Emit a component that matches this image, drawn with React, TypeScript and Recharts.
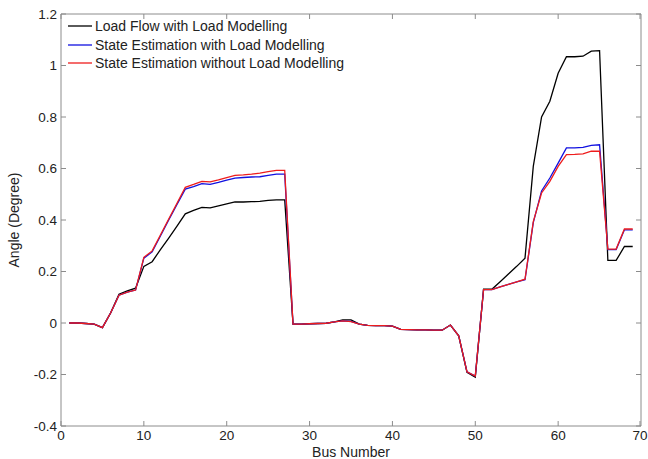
import { LineChart, Line, XAxis, YAxis, Legend } from 'recharts';

// bus numbers 1..69
const buses = [
  1, 2, 3, 4, 5, 6, 7, 8, 9, 10, 11, 12, 13, 14, 15, 16, 17, 18, 19, 20, 21, 22, 23,
  24, 25, 26, 27, 28, 29, 30, 31, 32, 33, 34, 35, 36, 37, 38, 39, 40, 41, 42, 43, 44, 45,
  46, 47, 48, 49, 50, 51, 52, 53, 54, 55, 56, 57, 58, 59, 60, 61, 62, 63, 64, 65, 66, 67,
  68, 69,
];

const loadFlow = [
  0, 0, -0.002, -0.004, -0.018, 0.04, 0.112, 0.125, 0.135, 0.22, 0.238, 0.285, 0.33, 0.376,
  0.424, 0.437, 0.449, 0.447, 0.455, 0.463, 0.47, 0.47, 0.471, 0.472, 0.476, 0.478, 0.478,
  -0.004, -0.004, -0.003, -0.002, -0.001, 0.004, 0.012, 0.012, -0.004, -0.009, -0.01, -0.01,
  -0.012, -0.025, -0.026, -0.027, -0.027, -0.028, -0.028, -0.008, -0.05, -0.192, -0.21,
  0.131, 0.131, 0.16, 0.19, 0.22, 0.252, 0.608, 0.8, 0.861, 0.97, 1.034, 1.034, 1.036,
  1.056, 1.058, 0.243, 0.243, 0.297, 0.297,
];

const seWithLM = [
  0, 0, -0.002, -0.004, -0.018, 0.04, 0.108, 0.12, 0.128, 0.252, 0.276, 0.338, 0.4, 0.46,
  0.52, 0.53, 0.541, 0.538, 0.546, 0.555, 0.563, 0.565, 0.567, 0.568, 0.573, 0.578, 0.578,
  -0.004, -0.004, -0.003, -0.002, -0.001, 0.004, 0.008, 0.006, -0.004, -0.009, -0.01, -0.01,
  -0.012, -0.025, -0.026, -0.027, -0.027, -0.028, -0.028, -0.008, -0.05, -0.19, -0.206,
  0.13, 0.13, 0.14, 0.15, 0.16, 0.168, 0.39, 0.513, 0.563, 0.621, 0.68, 0.68, 0.682,
  0.69, 0.692, 0.285, 0.285, 0.362, 0.362,
];

const seWithoutLM = [
  0, 0, -0.002, -0.004, -0.018, 0.04, 0.108, 0.12, 0.128, 0.255, 0.28, 0.342, 0.404, 0.465,
  0.527, 0.538, 0.55, 0.548, 0.556, 0.565, 0.573, 0.575, 0.578, 0.582, 0.588, 0.593, 0.593,
  -0.004, -0.004, -0.003, -0.002, -0.001, 0.004, 0.008, 0.005, -0.004, -0.009, -0.01, -0.01,
  -0.012, -0.025, -0.026, -0.027, -0.027, -0.028, -0.028, -0.008, -0.05, -0.19, -0.206,
  0.13, 0.13, 0.14, 0.15, 0.16, 0.17, 0.394, 0.505, 0.55, 0.608, 0.654, 0.655, 0.657,
  0.667, 0.667, 0.287, 0.287, 0.365, 0.365,
];

const xTicks = [0, 10, 20, 30, 40, 50, 60, 70];
const yTicks = [-0.4, -0.2, 0, 0.2, 0.4, 0.6, 0.8, 1, 1.2];

const seriesInfo = [
  { key: 'loadFlow', name: 'Load Flow with Load Modelling', color: '#000000' },
  { key: 'seWithLM', name: 'State Estimation with Load Modelling', color: '#1010e0' },
  { key: 'seWithoutLM', name: 'State Estimation without Load Modelling', color: '#ee1c1c' },
];

const data = buses.map((bus, i) => ({
  bus,
  loadFlow: loadFlow[i],
  seWithLM: seWithLM[i],
  seWithoutLM: seWithoutLM[i],
}));

const FONT = '"Liberation Sans", Arial, sans-serif';
const AXIS = '#8c8c8c';
const TEXT = '#222';
const TICK_LEN = 5;

function fmtY(v: number) {
  return String(Number(v.toFixed(1)));
}

// MATLAB-style ticks: mark drawn inward, label outside
function BottomTick({ x, y, payload }: any) {
  return (
    <g>
      <line x1={x} x2={x} y1={y} y2={y - TICK_LEN} stroke={AXIS} />
      <text x={x} y={y + 4} dy="0.71em" textAnchor="middle" fontSize={13.5} fill={TEXT} fontFamily={FONT}>
        {payload.value}
      </text>
    </g>
  );
}

function TopTick({ x, y }: any) {
  return <line x1={x} x2={x} y1={y} y2={y + TICK_LEN} stroke={AXIS} />;
}

function LeftTick({ x, y, payload }: any) {
  return (
    <g>
      <line x1={x} x2={x + TICK_LEN} y1={y} y2={y} stroke={AXIS} />
      <text x={x - 4} y={y} dy="0.35em" textAnchor="end" fontSize={13.5} fill={TEXT} fontFamily={FONT}>
        {fmtY(payload.value)}
      </text>
    </g>
  );
}

function RightTick({ x, y }: any) {
  return <line x1={x} x2={x - TICK_LEN} y1={y} y2={y} stroke={AXIS} />;
}

function LegendBox() {
  return (
    <div style={{ fontFamily: FONT, fontSize: 14, color: TEXT }}>
      {seriesInfo.map((s) => (
        <div key={s.key} style={{ display: 'flex', alignItems: 'center', height: 18.5 }}>
          <svg width={26} height={4} style={{ marginRight: 1 }}>
            <line x1={0} y1={2} x2={24} y2={2} stroke={s.color} strokeWidth={1.3} />
          </svg>
          <span style={{ whiteSpace: 'nowrap' }}>{s.name}</span>
        </div>
      ))}
    </div>
  );
}

export default function App() {
  const titleStyle = { fontSize: 14, fill: TEXT, fontFamily: FONT };
  return (
    <div style={{ position: 'absolute', left: 0, top: 0, width: 648, height: 459 }}>
      <LineChart
        width={648}
        height={459}
        data={data}
        margin={{ top: 13, right: 6, bottom: 0, left: 11 }}
      >
        <XAxis
          dataKey="bus"
          type="number"
          domain={[0, 70]}
          ticks={xTicks}
          allowDataOverflow
          height={33}
          stroke={AXIS}
          tick={<BottomTick />}
          tickLine={false}
          tickSize={0}
          tickMargin={0}
          label={{ value: 'Bus Number', position: 'insideBottom', offset: 2, style: titleStyle }}
        />
        <XAxis
          xAxisId="top"
          dataKey="bus"
          orientation="top"
          type="number"
          domain={[0, 70]}
          ticks={xTicks}
          allowDataOverflow
          height={1}
          stroke={AXIS}
          tick={<TopTick />}
          tickLine={false}
          tickSize={0}
          tickMargin={0}
        />
        <YAxis
          type="number"
          domain={[-0.4, 1.2]}
          ticks={yTicks}
          allowDataOverflow
          width={50}
          stroke={AXIS}
          tick={<LeftTick />}
          tickLine={false}
          tickSize={0}
          tickMargin={0}
          label={{ value: 'Angle (Degree)', angle: -90, position: 'insideLeft', offset: 3, style: { ...titleStyle, textAnchor: 'middle' } }}
        />
        <YAxis
          yAxisId="right"
          orientation="right"
          type="number"
          domain={[-0.4, 1.2]}
          ticks={yTicks}
          allowDataOverflow
          width={1}
          stroke={AXIS}
          tick={<RightTick />}
          tickLine={false}
          tickSize={0}
          tickMargin={0}
        />
        <Legend
          layout="vertical"
          verticalAlign="middle"
          align="center"
          content={() => <LegendBox />}
          wrapperStyle={{ top: 17, left: 68, width: 'auto', height: 'auto' }}
        />
        {seriesInfo.map((s) => (
          <Line
            key={s.key}
            dataKey={s.key}
            name={s.name}
            stroke={s.color}
            strokeWidth={1.3}
            dot={false}
            activeDot={false}
            type="linear"
            isAnimationActive={false}
          />
        ))}
        {/* invisible series so the top/right frame axes get rendered */}
        <Line
          xAxisId="top"
          yAxisId="right"
          dataKey="loadFlow"
          stroke="none"
          dot={false}
          activeDot={false}
          legendType="none"
          isAnimationActive={false}
        />
      </LineChart>
    </div>
  );
}
